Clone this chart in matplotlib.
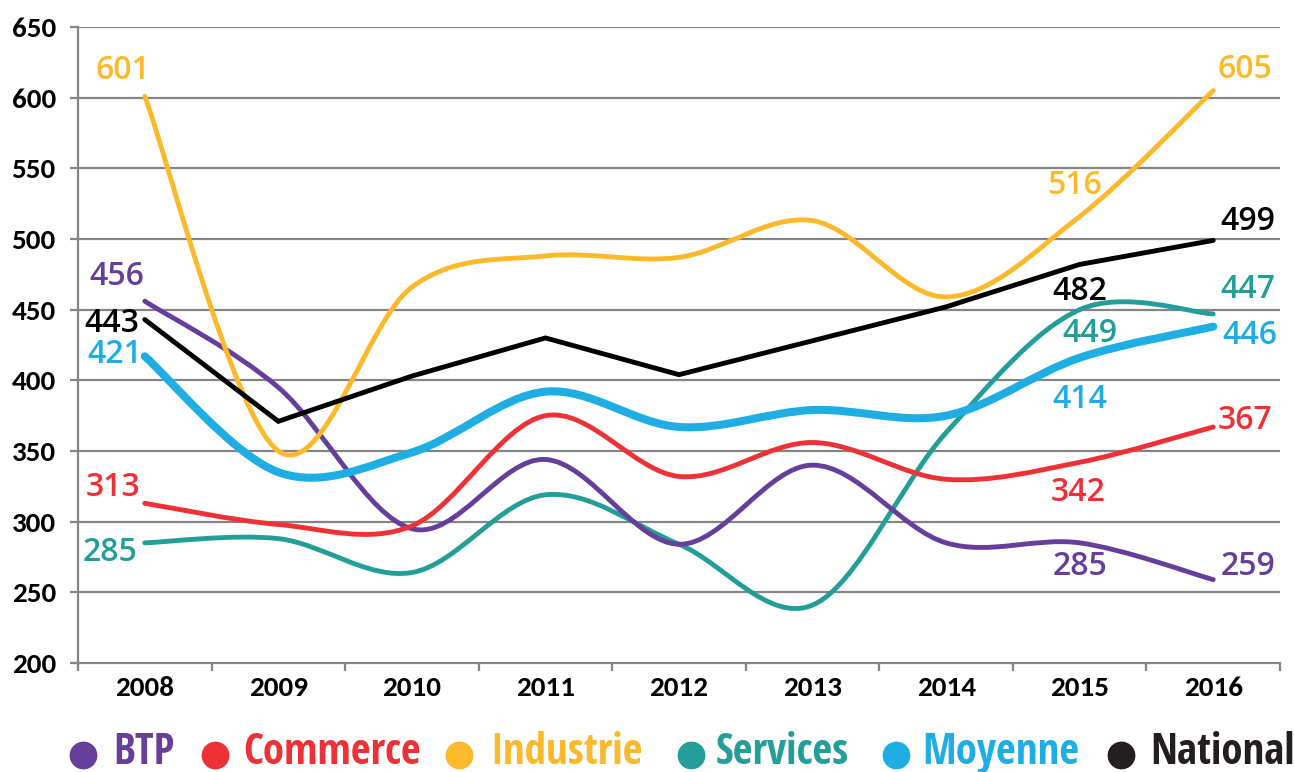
import numpy as np
import matplotlib
matplotlib.use("Agg")
import matplotlib.pyplot as plt
from matplotlib.path import Path
from matplotlib.patches import PathPatch
from matplotlib.lines import Line2D

years = ["2008", "2009", "2010", "2011", "2012", "2013", "2014", "2015", "2016"]

btp = [456, 395, 295, 344, 284, 340, 285, 285, 259]
commerce = [313, 298, 297, 375, 332, 356, 330, 342, 367]
industrie = [601, 350, 466, 488, 487, 513, 459, 516, 605]
services = [285, 288, 264, 319, 284, 241, 363, 450, 447]
moyenne = [417, 335, 349, 392, 367, 379, 375, 416, 438]
national = [443, 371, 403, 430, 404, 428, 452, 482, 499]

# labels shown at 2008, 2015 and 2016
lab_btp = ["456", "285", "259"]
lab_commerce = ["313", "342", "367"]
lab_industrie = ["601", "516", "605"]
lab_services = ["285", "449", "447"]
lab_moyenne = ["421", "414", "446"]
lab_national = ["443", "482", "499"]

purple = "#653F99"
red = "#EE3137"
yellow = "#FDB92C"
teal = "#239E98"
blue = "#1FAEE3"
black = "#000000"

lab_font = ["Open Sans", "DejaVu Sans"]
leg_font = ["Open Sans Condensed", "DejaVu Sans"]

plt.rcParams["font.family"] = ["Carlito", "Lato", "DejaVu Sans"]
plt.rcParams["font.weight"] = "bold"


def smooth_path(y):
    # bezier path through the points, like excel "smoothed line"
    x = np.arange(len(y), dtype=float)
    y = np.asarray(y, dtype=float)
    pts = np.column_stack([x, y])
    verts = [pts[0]]
    codes = [Path.MOVETO]
    n = len(pts)
    for i in range(n - 1):
        p0 = pts[i - 1] if i > 0 else pts[i]
        p1 = pts[i]
        p2 = pts[i + 1]
        p3 = pts[i + 2] if i + 2 < n else pts[i + 1]
        c1 = p1 + (p2 - p0) / 6.0
        c2 = p2 - (p3 - p1) / 6.0
        verts += [c1, c2, p2]
        codes += [Path.CURVE4] * 3
    return Path(verts, codes)


fig = plt.figure(figsize=(12.94, 7.72), dpi=100)
ax = fig.add_axes([78 / 1294, 1 - 663 / 772, (1280 - 78) / 1294, (663 - 27) / 772])

grid_c = "#858585"
for v in range(250, 651, 50):
    ax.axhline(v, color=grid_c, lw=1.6, zorder=1)

series = [
    (services, teal, 3.5, lab_services, [(-35, -10), (10, -24), (35, 24)]),
    (btp, purple, 3.5, lab_btp, [(-28, 25), (0, -24), (35, 13)]),
    (commerce, red, 3.5, lab_commerce, [(-32, 16), (-2, -30), (32, 6)]),
    (industrie, yellow, 3.5, lab_industrie, [(-22, 26), (-5, 31), (32, 21)]),
    (moyenne, blue, 5.8, lab_moyenne, [(-30, 2), (0, -42), (37, -9)]),
]

for vals, col, lw, labs, offs in series:
    patch = PathPatch(smooth_path(vals), fill=False, edgecolor=col, lw=lw,
                      capstyle="round", zorder=3)
    ax.add_patch(patch)
    for idx, lab, off in zip([0, 7, 8], labs, offs):
        ax.annotate(lab, (idx, vals[idx]), xytext=off, textcoords="offset pixels",
                    ha="center", va="center", color=col, fontsize=23,
                    fontweight=600, family=lab_font, zorder=5)

ax.plot(range(len(national)), national, color=black, lw=3.5,
        solid_capstyle="round", solid_joinstyle="miter", zorder=4)
for idx, lab, off in zip([0, 7, 8], lab_national, [(-33, -4), (0, -27), (35, 19)]):
    ax.annotate(lab, (idx, national[idx]), xytext=off, textcoords="offset pixels",
                ha="center", va="center", color=black, fontsize=23,
                fontweight=600, family=lab_font, zorder=5)

ax.set_xlim(-0.5, 8.5)
ax.set_ylim(200, 650)
ax.set_yticks(range(200, 651, 50))
ax.set_xticks(range(len(years)))
ax.set_xticklabels(years)
ax.set_xticks(np.arange(-0.5, 8.6, 1), minor=True)
ax.tick_params(axis="x", which="major", length=0, pad=9, labelsize=21)
ax.tick_params(axis="x", which="minor", length=6, width=1.6, color=grid_c)
ax.tick_params(axis="y", length=6, width=1.6, color=grid_c, pad=10, labelsize=21)

for s in ["top", "right"]:
    ax.spines[s].set_visible(False)
for s in ["left", "bottom"]:
    ax.spines[s].set_color(grid_c)
    ax.spines[s].set_linewidth(1.6)

# legend at the bottom
leg = [("BTP", purple, 83, 113), ("Commerce", red, 215, 243),
       ("Industrie", yellow, 459, 490), ("Services", teal, 691, 716),
       ("Moyenne", blue, 896, 922), ("National", "#231F20", 1121, 1150)]
for name, col, cx, tx in leg:
    fig.add_artist(Line2D([cx / 1294], [1 - 755 / 772], marker="o", markersize=19,
                          color=col, transform=fig.transFigure))
    fig.text(tx / 1294, 1 - 764 / 772, name, color=col, fontsize=31,
             fontweight="bold", family=leg_font, ha="left", va="baseline")

fig.savefig("out.png", dpi=100)
